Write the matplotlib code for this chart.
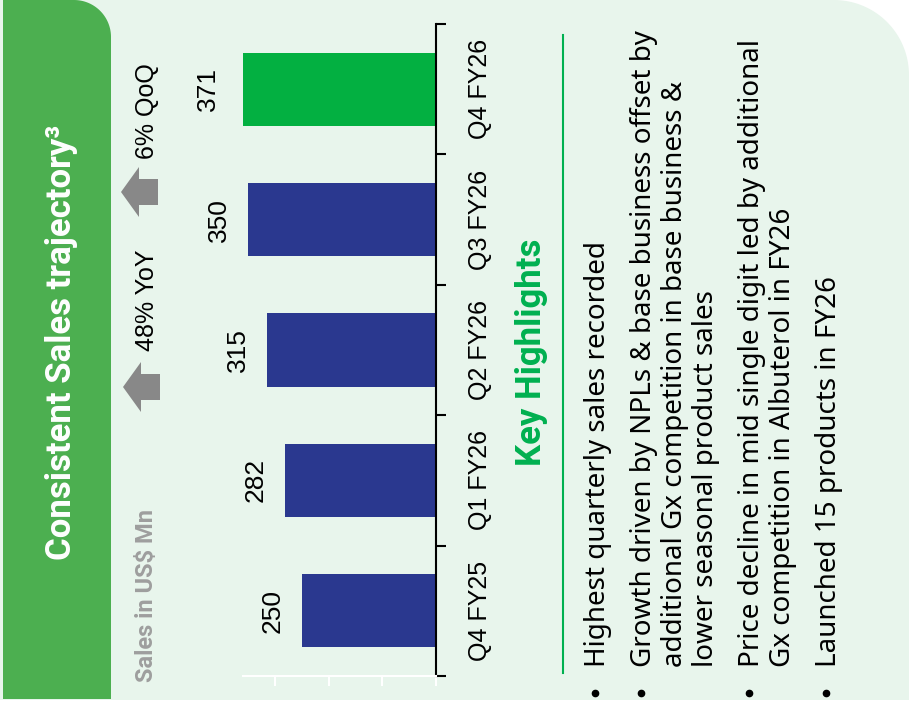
import numpy as np
import matplotlib.pyplot as plt
from matplotlib.patches import Polygon

# chart data
quarters = ["Q4 FY25", "Q1 FY26", "Q2 FY26", "Q3 FY26", "Q4 FY26"]
sales = [250, 282, 315, 350, 371]
bar_colors = ["#2A388F", "#2A388F", "#2A388F", "#2A388F", "#03B041"]
growth_notes = ["48% YoY", "6% QoQ"]

title = "Consistent Sales trajectory\u00b3"
unit_label = "Sales in US$ Mn"
highlights_title = "Key Highlights"
highlights = [
    ["Highest quarterly sales recorded"],
    ["Growth driven by NPLs & base business offset by",
     "additional Gx competition in base business &",
     "lower seasonal product sales"],
    ["Price decline in mid single digit led by additional",
     "Gx competition in Albuterol in FY26"],
    ["Launched 15 products in FY26"],
]

W, H = 909, 707
fig = plt.figure(figsize=(W / 100, H / 100), dpi=100)
fig.patch.set_facecolor("white")

# background layer in pixel coordinates (y grows downward)
bg = fig.add_axes([0, 0, 1, 1])
bg.set_xlim(0, W)
bg.set_ylim(H, 0)
bg.axis("off")


def top_right_rounded(x0, y0, x1, y1, r, n=40):
    t = np.linspace(-np.pi / 2, 0, n)
    arc = np.column_stack([x1 - r + r * np.cos(t), y0 + r + r * np.sin(t)])
    pts = [(x0, y0)] + arc.tolist() + [(x1, y1), (x0, y1)]
    return pts


bg.add_patch(Polygon(top_right_rounded(0, 0, W, 700, 75),
                     closed=True, facecolor="#E8F5EC", edgecolor="none", zorder=0))
bg.add_patch(Polygon(top_right_rounded(3, 0, 111, 699, 37),
                     closed=True, facecolor="#4CAF50", edgecolor="none", zorder=1))

bg.text(62, 342, title, rotation=90, rotation_mode="anchor",
        ha="center", va="center", color="white", fontsize=25,
        family="Roboto", weight="bold")
bg.text(146, 595, unit_label, rotation=90, rotation_mode="anchor",
        ha="center", va="center", color="#9E9E9E", fontsize=17,
        family="Roboto", weight="bold")

# growth arrows with their notes
for (tip_x, tip_y), note, note_y in zip([(123, 387), (121, 192)], growth_notes, [300, 111]):
    arrow = [(tip_x, tip_y), (tip_x + 18, tip_y - 25), (tip_x + 18, tip_y - 13),
             (tip_x + 37, tip_y - 13), (tip_x + 37, tip_y + 13),
             (tip_x + 18, tip_y + 13), (tip_x + 18, tip_y + 25)]
    bg.add_patch(Polygon(arrow, closed=True, facecolor="#888888",
                         edgecolor="none", zorder=2))
    bg.text(147, note_y, note, rotation=90, rotation_mode="anchor",
            ha="center", va="center", fontsize=18, family="Liberation Sans")

# key highlights block
bg.text(532, 352, highlights_title, rotation=90, rotation_mode="anchor",
        ha="center", va="center", color="#00B050", fontsize=25,
        family="Roboto", weight="bold")
bg.plot([563, 563], [35, 673], color="#00B050", lw=1.5)

baseline = 605
for para in highlights:
    bg.plot(baseline - 10, 693, "o", color="black", ms=4.5)
    for line in para:
        bg.text(baseline, 667, line, rotation=90, rotation_mode="anchor",
                ha="left", va="baseline", fontsize=20, family="Noto Sans")
        baseline += 31
    baseline += 15

# bar chart, categories run bottom to top, values grow to the left
ax = fig.add_axes([243 / W, 31 / H, 193 / W, 652 / H])
ax.set_facecolor("none")
ypos = np.arange(len(quarters))
ax.barh(ypos, sales, height=0.56, color=bar_colors)
ax.set_xlim(360, 0)
ax.set_ylim(-0.5, len(quarters) - 0.5)

for yi, v in zip(ypos, sales):
    ax.annotate(f"{v}", (v, yi), xytext=(-21, 0), textcoords="offset points",
                rotation=90, ha="center", va="center", fontsize=19,
                family="Liberation Sans", annotation_clip=False)

ax.yaxis.tick_right()
ax.set_yticks(np.arange(-0.5, len(quarters)), labels=[])
ax.set_yticks(ypos, labels=quarters, minor=True)
ax.tick_params(axis="y", which="major", length=7.2, width=1.5, color="black",
               right=True, left=False)
ax.tick_params(axis="y", which="minor", length=0, pad=23, labelsize=18,
               labelrotation=90, right=True, left=False,
               labelright=True, labelleft=False)
for t in ax.get_yticklabels(minor=True):
    t.set_va("center")
    t.set_family("Liberation Sans")

ax.set_xticks([0, 100, 200, 300], labels=[])
ax.tick_params(axis="x", length=7.2, width=1.5, color="white")
for side in ["left", "top"]:
    ax.spines[side].set_visible(False)
ax.spines["right"].set_linewidth(1.5)
ax.spines["right"].set_color("black")
ax.spines["bottom"].set_linewidth(1.5)
ax.spines["bottom"].set_color("white")

fig.savefig("out.png", dpi=100)
